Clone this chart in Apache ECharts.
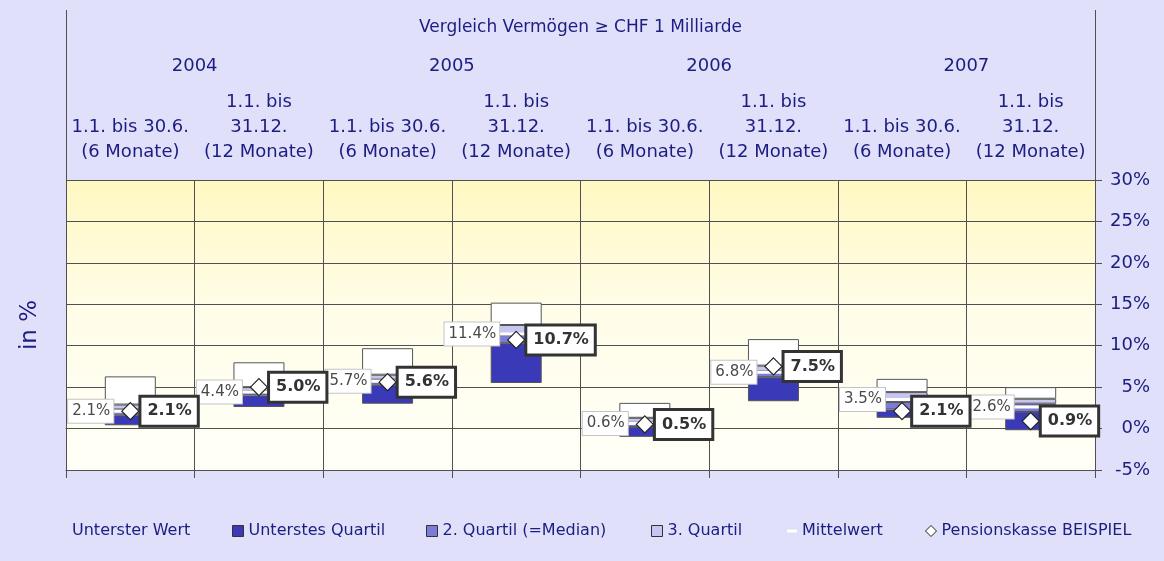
<!DOCTYPE html>
<html>
<head>
<meta charset="utf-8">
<script src="https://cdn.jsdelivr.net/npm/echarts@6/dist/echarts.min.js"></script>
<style>
html,body{margin:0;padding:0;background:#e0e0fa;}
#chart{width:1164px;height:561px;}
</style>
</head>
<body>
<div id="chart"></div>
<script>
// ---- data ----
const title = 'Vergleich Vermögen ≥ CHF 1 Milliarde';
const years = ['2004', '2005', '2006', '2007'];
const categories = [
  '1.1. bis 30.6.\n(6 Monate)', '1.1. bis\n31.12.\n(12 Monate)',
  '1.1. bis 30.6.\n(6 Monate)', '1.1. bis\n31.12.\n(12 Monate)',
  '1.1. bis 30.6.\n(6 Monate)', '1.1. bis\n31.12.\n(12 Monate)',
  '1.1. bis 30.6.\n(6 Monate)', '1.1. bis\n31.12.\n(12 Monate)'
];
const minVals  = [0.4, 2.6, 3.0, 5.5, -1.0, 3.3, 1.3, -0.2];
const q1Vals   = [1.6, 4.0, 5.3, 10.3, 0.2, 6.2, 2.3, 2.0];
const medVals  = [2.3, 4.5, 5.9, 11.3, 0.7, 6.9, 3.2, 3.0];
const q3Vals   = [2.9, 5.0, 6.5, 12.5, 1.3, 7.6, 4.4, 3.6];
const maxVals  = [6.3, 8.0, 9.7, 15.2, 3.1, 10.8, 6.0, 5.0];
const meanVals = [2.1, 4.4, 5.7, 11.4, 0.6, 6.8, 3.5, 2.6];
const pkVals   = [2.1, 5.0, 5.6, 10.7, 0.5, 7.5, 2.1, 0.9];
const yTicksMin = -5, yTicksMax = 30, yStep = 5;

// ---- derived stack segments ----
const diff = (a, b) => a.map((v, i) => +(v - b[i]).toFixed(2));
const segDark = diff(q1Vals, minVals);
const segMed = diff(medVals, q1Vals);
const segLight = diff(q3Vals, medVals);
const segTop = diff(maxVals, q3Vals);

const NAVY = '#1c1c82';
const LINE = '#505050';
const FONT = 'DejaVu Sans';

const chart = echarts.init(document.getElementById('chart'));

const barBase = {
  type: 'bar', stack: 'box', stackStrategy: 'all', barWidth: 51,
  xAxisIndex: 0, yAxisIndex: 0, z: 2
};

const legendCommon = {
  top: 523, padding: 0, itemGap: 0, itemWidth: 11, itemHeight: 11,
  textStyle: {color: NAVY, fontSize: 16, fontFamily: FONT},
  itemStyle: {borderColor: '#333', borderWidth: 1},
  selectedMode: false
};

chart.setOption({
  backgroundColor: '#e0e0fa',
  animation: false,
  textStyle: {fontFamily: FONT},
  grid: {
    left: 66, right: 69, top: 180, bottom: 91, show: true, borderWidth: 0,
    backgroundColor: new echarts.graphic.LinearGradient(0, 0, 0, 1, [
      {offset: 0, color: '#fff8c2'},
      {offset: 0.45, color: '#fffde8'},
      {offset: 1, color: '#fffff8'}
    ])
  },
  legend: [
    Object.assign({}, legendCommon, {left: 56,
      data: [{name: 'Unterster Wert', icon: 'rect', itemStyle: {color: 'rgba(0,0,0,0)', borderWidth: 0}}]}),
    Object.assign({}, legendCommon, {left: 232, data: [{name: 'Unterstes Quartil', icon: 'rect'}]}),
    Object.assign({}, legendCommon, {left: 426, data: [{name: '2. Quartil (=Median)', icon: 'rect'}]}),
    Object.assign({}, legendCommon, {left: 651, data: [{name: '3. Quartil', icon: 'rect'}]}),
    Object.assign({}, legendCommon, {left: 787, itemWidth: 10, itemHeight: 3,
      itemStyle: {borderWidth: 0}, data: [{name: 'Mittelwert', icon: 'rect'}]}),
    Object.assign({}, legendCommon, {left: 925, itemWidth: 11, itemHeight: 11,
      itemStyle: {color: '#fff', borderColor: '#222', borderWidth: 1},
      data: [{name: 'Pensionskasse BEISPIEL', icon: 'diamond'}]})
  ],
  xAxis: [
    {
      type: 'category', data: categories, position: 'top',
      axisLine: {show: true, lineStyle: {color: LINE}},
      axisTick: {show: true, length: 90, interval: 0, lineStyle: {color: LINE}},
      axisLabel: {interval: 0, color: NAVY, fontSize: 18, lineHeight: 25, margin: 15, fontFamily: FONT},
      splitLine: {show: true, interval: 0, lineStyle: {color: LINE}}
    },
    {
      type: 'category', data: years, position: 'top',
      axisLine: {show: false},
      axisTick: {show: true, length: 130, interval: 0, lineStyle: {color: LINE}},
      axisLabel: {interval: 0, color: NAVY, fontSize: 18, margin: 105, fontFamily: FONT},
      splitLine: {show: false}
    },
    {
      type: 'category', data: [title], position: 'top',
      axisLine: {show: false},
      axisTick: {show: true, length: 170, interval: 0, lineStyle: {color: LINE}},
      axisLabel: {interval: 0, color: NAVY, fontSize: 17, margin: 144, fontFamily: FONT},
      splitLine: {show: false}
    },
    {
      type: 'category', data: categories, position: 'bottom',
      axisLine: {show: true, lineStyle: {color: LINE}},
      axisTick: {show: true, length: 8, interval: 0, lineStyle: {color: LINE}},
      axisLabel: {show: false},
      splitLine: {show: false}
    }
  ],
  yAxis: [
    {
      type: 'value', position: 'right', min: yTicksMin, max: yTicksMax, interval: yStep,
      axisLine: {show: true, lineStyle: {color: LINE}},
      axisTick: {show: true, length: 7, lineStyle: {color: LINE}},
      axisLabel: {formatter: '{value}%', color: NAVY, fontSize: 18, align: 'right', margin: 55, fontFamily: FONT},
      splitLine: {show: true, lineStyle: {color: LINE}}
    },
    {
      type: 'value', position: 'left', min: yTicksMin, max: yTicksMax, interval: yStep,
      axisLine: {show: true, lineStyle: {color: LINE}},
      axisTick: {show: false}, axisLabel: {show: false}, splitLine: {show: false},
      name: 'in %', nameLocation: 'middle', nameRotate: 90, nameGap: 24,
      nameTextStyle: {color: NAVY, fontSize: 23, fontFamily: FONT}
    }
  ],
  series: [
    Object.assign({}, barBase, {name: 'Unterster Wert', data: minVals,
      itemStyle: {color: 'rgba(0,0,0,0)', borderWidth: 0}}),
    Object.assign({}, barBase, {name: 'Unterstes Quartil', data: segDark,
      itemStyle: {color: '#3a3ab8', borderColor: '#555', borderWidth: 1}}),
    Object.assign({}, barBase, {name: '2. Quartil (=Median)', data: segMed,
      itemStyle: {color: '#7c7cd8', borderColor: '#555', borderWidth: 1}}),
    Object.assign({}, barBase, {name: '3. Quartil', data: segLight,
      itemStyle: {color: '#c6c6f0', borderColor: '#555', borderWidth: 1}}),
    Object.assign({}, barBase, {name: 'Oberstes Quartil', data: segTop,
      itemStyle: {color: '#ffffff', borderColor: '#555', borderWidth: 1}}),
    {
      name: 'Mittelwert', type: 'scatter', data: meanVals, z: 4,
      symbol: 'rect', symbolSize: [48, 3],
      itemStyle: {color: '#ffffff', opacity: 1},
      label: {
        show: true, position: 'left', distance: 0, offset: [7, 0],
        formatter: p => p.value.toFixed(1) + '%',
        color: '#4a4a4a', fontSize: 15, fontFamily: FONT,
        backgroundColor: '#ffffff', borderColor: '#c4c4c4', borderWidth: 1,
        padding: [4, 3, 4, 4]
      }
    },
    {
      name: 'Pensionskasse BEISPIEL', type: 'scatter', data: pkVals, z: 5,
      symbol: 'diamond', symbolSize: 17,
      itemStyle: {color: '#ffffff', borderColor: '#222', borderWidth: 1.2, opacity: 1},
      label: {
        show: true, position: 'right', distance: 2,
        formatter: p => p.value.toFixed(1) + '%',
        color: '#333', fontSize: 16, fontWeight: 'bold', fontFamily: FONT,
        backgroundColor: '#ffffff', borderColor: '#333', borderWidth: 3,
        padding: [6, 5, 5, 6]
      }
    }
  ]
});
</script>
</body>
</html>
